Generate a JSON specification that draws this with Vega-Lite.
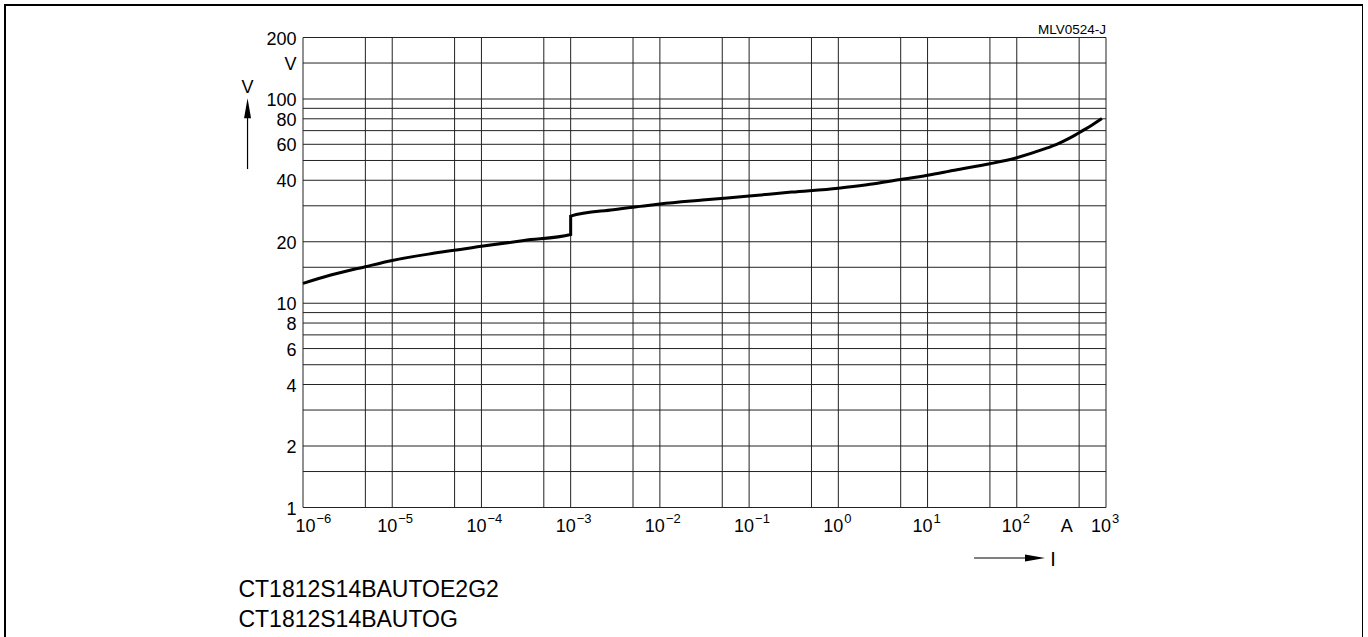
{
  "$schema": "https://vega.github.io/schema/vega-lite/v6.json",
  "description": "Voltage vs. current characteristic of a multilayer varistor, log-log grid, with a step at 1 mA.",
  "autosize": {"type": "none"},
  "padding": {"left": 5, "top": 5, "right": 0, "bottom": 0},
  "width": 1358,
  "height": 633,
  "background": "white",
  "config": {
    "view": {"stroke": "#000", "strokeWidth": 2},
    "font": "Liberation Sans",
    "text": {"font": "Liberation Sans", "color": "#000"}
  },
  "datasets": {
    "curve": [
      {"i": 1, "I": 0.000001, "V": 12.5},
      {"i": 2, "I": 0.000002, "V": 13.7},
      {"i": 3, "I": 0.000005, "V": 15.1},
      {"i": 4, "I": 0.00001, "V": 16.2},
      {"i": 5, "I": 0.00003, "V": 17.6},
      {"i": 6, "I": 0.0001, "V": 19.0},
      {"i": 7, "I": 0.0003, "V": 20.3},
      {"i": 8, "I": 0.001, "V": 21.7},
      {"i": 9, "I": 0.001, "V": 26.7},
      {"i": 10, "I": 0.003, "V": 28.7},
      {"i": 11, "I": 0.006, "V": 29.8},
      {"i": 12, "I": 0.01, "V": 30.6},
      {"i": 13, "I": 0.03, "V": 32.0},
      {"i": 14, "I": 0.1, "V": 33.5},
      {"i": 15, "I": 0.3, "V": 35.0},
      {"i": 16, "I": 1, "V": 36.6},
      {"i": 17, "I": 2, "V": 37.9},
      {"i": 18, "I": 5, "V": 40.3},
      {"i": 19, "I": 10, "V": 42.3},
      {"i": 20, "I": 20, "V": 44.8},
      {"i": 21, "I": 50, "V": 48.2},
      {"i": 22, "I": 100, "V": 51.6},
      {"i": 23, "I": 200, "V": 56.8},
      {"i": 24, "I": 280, "V": 60.0},
      {"i": 25, "I": 400, "V": 64.7},
      {"i": 26, "I": 548, "V": 70.0},
      {"i": 27, "I": 700, "V": 74.6},
      {"i": 28, "I": 900, "V": 80.2}
    ],
    "gridI": [
      {"I": 0.000001}, {"I": 0.000005}, {"I": 0.00001}, {"I": 0.00005},
      {"I": 0.0001}, {"I": 0.0005}, {"I": 0.001}, {"I": 0.005},
      {"I": 0.01}, {"I": 0.05}, {"I": 0.1}, {"I": 0.5},
      {"I": 1}, {"I": 5}, {"I": 10}, {"I": 50},
      {"I": 100}, {"I": 500}, {"I": 1000}
    ],
    "gridV": [
      {"V": 1}, {"V": 1.5}, {"V": 2}, {"V": 3}, {"V": 4}, {"V": 5},
      {"V": 6}, {"V": 7}, {"V": 8}, {"V": 9}, {"V": 10}, {"V": 15},
      {"V": 20}, {"V": 30}, {"V": 40}, {"V": 50}, {"V": 60}, {"V": 70},
      {"V": 80}, {"V": 90}, {"V": 100}, {"V": 150}, {"V": 200}
    ],
    "vTicks": [
      {"v": 1, "t": "1"}, {"v": 2, "t": "2"}, {"v": 4, "t": "4"},
      {"v": 6, "t": "6"}, {"v": 8, "t": "8"}, {"v": 10, "t": "10"},
      {"v": 20, "t": "20"}, {"v": 40, "t": "40"}, {"v": 60, "t": "60"},
      {"v": 80, "t": "80"}, {"v": 100, "t": "100"}, {"v": 150, "t": "V"},
      {"v": 200, "t": "200"}
    ],
    "decades": [
      {"p": 0.000001, "e": "−6"},
      {"p": 0.00001, "e": "−5"},
      {"p": 0.0001, "e": "−4"},
      {"p": 0.001, "e": "−3"},
      {"p": 0.01, "e": "−2"},
      {"p": 0.1, "e": "−1"},
      {"p": 1, "e": "0"},
      {"p": 10, "e": "1"},
      {"p": 100, "e": "2"},
      {"p": 1000, "e": "3"}
    ]
  },
  "layer": [
    {
      "data": {"name": "gridI"},
      "mark": {"type": "rule", "color": "#222", "strokeWidth": 1},
      "encoding": {
        "x": {"field": "I", "type": "quantitative", "axis": null,
              "scale": {"type": "log", "domain": [0.000001, 1000], "range": [298, 1101], "nice": false}},
        "y": {"datum": 1, "type": "quantitative", "axis": null,
              "scale": {"type": "log", "domain": [1, 200], "range": [502.5, 32.5], "nice": false}},
        "y2": {"datum": 200}
      }
    },
    {
      "data": {"name": "gridV"},
      "mark": {"type": "rule", "color": "#222", "strokeWidth": 1},
      "encoding": {
        "y": {"field": "V", "type": "quantitative", "axis": null,
              "scale": {"type": "log", "domain": [1, 200], "range": [502.5, 32.5], "nice": false}},
        "x": {"datum": 0.000001, "type": "quantitative", "axis": null,
              "scale": {"type": "log", "domain": [0.000001, 1000], "range": [298, 1101], "nice": false}},
        "x2": {"datum": 1000}
      }
    },
    {
      "data": {"name": "curve"},
      "mark": {"type": "line", "color": "#000", "strokeWidth": 3, "strokeJoin": "miter", "interpolate": "monotone"},
      "encoding": {
        "x": {"field": "I", "type": "quantitative", "axis": null,
              "scale": {"type": "log", "domain": [0.000001, 1000], "range": [298, 1101], "nice": false}},
        "y": {"field": "V", "type": "quantitative", "axis": null,
              "scale": {"type": "log", "domain": [1, 200], "range": [502.5, 32.5], "nice": false}},
        "order": {"field": "i"}
      }
    },
    {
      "data": {"name": "vTicks"},
      "mark": {"type": "text", "align": "right", "baseline": "middle", "dx": -6.5, "dy": 2, "fontSize": 18},
      "encoding": {
        "y": {"field": "v", "type": "quantitative", "axis": null,
              "scale": {"type": "log", "domain": [1, 200], "range": [502.5, 32.5], "nice": false}},
        "x": {"datum": 0.000001, "type": "quantitative", "axis": null,
              "scale": {"type": "log", "domain": [0.000001, 1000], "range": [298, 1101], "nice": false}},
        "text": {"field": "t"}
      }
    },
    {
      "data": {"name": "decades"},
      "transform": [{"filter": "datum.p > 0.000002"}],
      "mark": {"type": "text", "align": "right", "baseline": "top", "dx": 5, "dy": 10, "fontSize": 18},
      "encoding": {
        "x": {"field": "p", "type": "quantitative", "axis": null,
              "scale": {"type": "log", "domain": [0.000001, 1000], "range": [298, 1101], "nice": false}},
        "y": {"datum": 1, "type": "quantitative", "axis": null,
              "scale": {"type": "log", "domain": [1, 200], "range": [502.5, 32.5], "nice": false}},
        "text": {"value": "10"}
      }
    },
    {
      "data": {"name": "decades"},
      "transform": [{"filter": "datum.p > 0.000002"}],
      "mark": {"type": "text", "align": "left", "baseline": "alphabetic", "dx": 6, "dy": 15, "fontSize": 13},
      "encoding": {
        "x": {"field": "p", "type": "quantitative", "axis": null,
              "scale": {"type": "log", "domain": [0.000001, 1000], "range": [298, 1101], "nice": false}},
        "y": {"datum": 1, "type": "quantitative", "axis": null,
              "scale": {"type": "log", "domain": [1, 200], "range": [502.5, 32.5], "nice": false}},
        "text": {"field": "e"}
      }
    },
    {
      "data": {"name": "decades"},
      "transform": [{"filter": "datum.p < 0.000002"}],
      "mark": {"type": "text", "align": "right", "baseline": "top", "dx": 12.5, "dy": 10, "fontSize": 18},
      "encoding": {
        "x": {"field": "p", "type": "quantitative", "axis": null,
              "scale": {"type": "log", "domain": [0.000001, 1000], "range": [298, 1101], "nice": false}},
        "y": {"datum": 1, "type": "quantitative", "axis": null,
              "scale": {"type": "log", "domain": [1, 200], "range": [502.5, 32.5], "nice": false}},
        "text": {"value": "10"}
      }
    },
    {
      "data": {"name": "decades"},
      "transform": [{"filter": "datum.p < 0.000002"}],
      "mark": {"type": "text", "align": "left", "baseline": "alphabetic", "dx": 13.5, "dy": 15, "fontSize": 13},
      "encoding": {
        "x": {"field": "p", "type": "quantitative", "axis": null,
              "scale": {"type": "log", "domain": [0.000001, 1000], "range": [298, 1101], "nice": false}},
        "y": {"datum": 1, "type": "quantitative", "axis": null,
              "scale": {"type": "log", "domain": [1, 200], "range": [502.5, 32.5], "nice": false}},
        "text": {"field": "e"}
      }
    },
    {
      "data": {"values": [{"label": "A"}]},
      "mark": {"type": "text", "align": "center", "baseline": "top", "dy": 10, "fontSize": 18},
      "encoding": {
        "x": {"datum": 363, "type": "quantitative", "axis": null,
              "scale": {"type": "log", "domain": [0.000001, 1000], "range": [298, 1101], "nice": false}},
        "y": {"datum": 1, "type": "quantitative", "axis": null,
              "scale": {"type": "log", "domain": [1, 200], "range": [502.5, 32.5], "nice": false}},
        "text": {"field": "label"}
      }
    },
    {
      "data": {"values": [{"label": "MLV0524-J"}]},
      "mark": {"type": "text", "align": "right", "baseline": "alphabetic", "dy": -4, "fontSize": 13.5},
      "encoding": {
        "x": {"datum": 1000, "type": "quantitative", "axis": null,
              "scale": {"type": "log", "domain": [0.000001, 1000], "range": [298, 1101], "nice": false}},
        "y": {"datum": 200, "type": "quantitative", "axis": null,
              "scale": {"type": "log", "domain": [1, 200], "range": [502.5, 32.5], "nice": false}},
        "text": {"field": "label"}
      }
    },
    {
      "data": {"values": [{"label": "V"}]},
      "mark": {"type": "text", "align": "center", "baseline": "alphabetic", "fontSize": 18},
      "encoding": {
        "x": {"datum": 0.000000239, "type": "quantitative", "axis": null,
              "scale": {"type": "log", "domain": [0.000001, 1000], "range": [298, 1101], "nice": false}},
        "y": {"datum": 107.2, "type": "quantitative", "axis": null,
              "scale": {"type": "log", "domain": [1, 200], "range": [502.5, 32.5], "nice": false}},
        "text": {"field": "label"}
      }
    },
    {
      "data": {"values": [{"part": "voltage arrow shaft"}]},
      "mark": {"type": "rule", "color": "#000", "strokeWidth": 1.2},
      "encoding": {
        "x": {"datum": 0.000000239, "type": "quantitative", "axis": null,
              "scale": {"type": "log", "domain": [0.000001, 1000], "range": [298, 1101], "nice": false}},
        "y": {"datum": 45.4, "type": "quantitative", "axis": null,
              "scale": {"type": "log", "domain": [1, 200], "range": [502.5, 32.5], "nice": false}},
        "y2": {"datum": 86}
      }
    },
    {
      "data": {"values": [{"part": "voltage arrow head"}]},
      "mark": {"type": "point", "shape": "M0,-1L0.35,1L-0.35,1Z", "size": 400, "filled": true, "opacity": 1, "color": "#000", "strokeWidth": 0},
      "encoding": {
        "x": {"datum": 0.000000239, "type": "quantitative", "axis": null,
              "scale": {"type": "log", "domain": [0.000001, 1000], "range": [298, 1101], "nice": false}},
        "y": {"datum": 90.2, "type": "quantitative", "axis": null,
              "scale": {"type": "log", "domain": [1, 200], "range": [502.5, 32.5], "nice": false}}
      }
    },
    {
      "data": {"values": [{"part": "current arrow shaft"}]},
      "mark": {"type": "rule", "color": "#000", "strokeWidth": 1.2},
      "encoding": {
        "x": {"datum": 33.2, "type": "quantitative", "axis": null,
              "scale": {"type": "log", "domain": [0.000001, 1000], "range": [298, 1101], "nice": false}},
        "x2": {"datum": 145},
        "y": {"datum": 0.566, "type": "quantitative", "axis": null,
              "scale": {"type": "log", "domain": [1, 200], "range": [502.5, 32.5], "nice": false}}
      }
    },
    {
      "data": {"values": [{"part": "current arrow head"}]},
      "mark": {"type": "point", "shape": "M1,0L-1,-0.35L-1,0.35Z", "size": 400, "filled": true, "opacity": 1, "color": "#000", "strokeWidth": 0},
      "encoding": {
        "x": {"datum": 160, "type": "quantitative", "axis": null,
              "scale": {"type": "log", "domain": [0.000001, 1000], "range": [298, 1101], "nice": false}},
        "y": {"datum": 0.566, "type": "quantitative", "axis": null,
              "scale": {"type": "log", "domain": [1, 200], "range": [502.5, 32.5], "nice": false}}
      }
    },
    {
      "data": {"values": [{"label": "I"}]},
      "mark": {"type": "text", "align": "center", "baseline": "alphabetic", "fontSize": 20},
      "encoding": {
        "x": {"datum": 254.7, "type": "quantitative", "axis": null,
              "scale": {"type": "log", "domain": [0.000001, 1000], "range": [298, 1101], "nice": false}},
        "y": {"datum": 0.517, "type": "quantitative", "axis": null,
              "scale": {"type": "log", "domain": [1, 200], "range": [502.5, 32.5], "nice": false}},
        "text": {"field": "label"}
      }
    },
    {
      "data": {"values": [{"label": "CT1812S14BAUTOE2G2\nCT1812S14BAUTOG"}]},
      "mark": {"type": "text", "align": "left", "baseline": "alphabetic", "fontSize": 23, "lineBreak": "\n", "lineHeight": 30},
      "encoding": {
        "x": {"datum": 0.000000189, "type": "quantitative", "axis": null,
              "scale": {"type": "log", "domain": [0.000001, 1000], "range": [298, 1101], "nice": false}},
        "y": {"datum": 0.365, "type": "quantitative", "axis": null,
              "scale": {"type": "log", "domain": [1, 200], "range": [502.5, 32.5], "nice": false}},
        "text": {"field": "label"}
      }
    }
  ]
}
